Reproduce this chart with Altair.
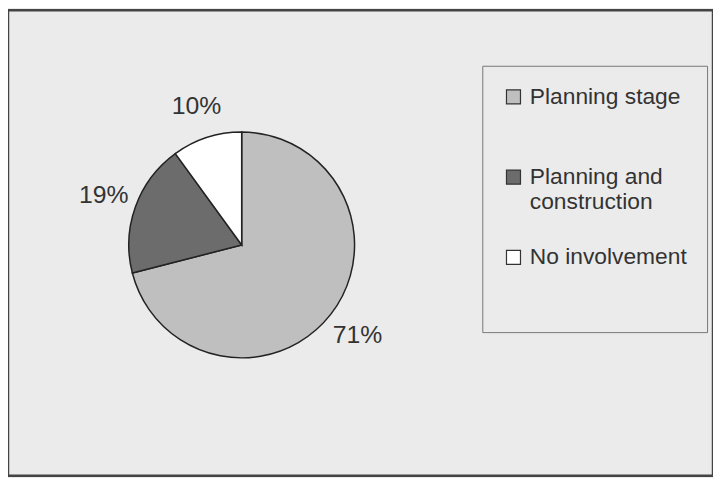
import altair as alt
import pandas as pd

categories = ["Planning stage", "Planning and construction", "No involvement"]
shares = [71, 19, 10]
labels = ["71%", "19%", "10%"]
slice_order = [0, 1, 2]
colors = ["#bfbfbf", "#6c6c6c", "#ffffff"]

df = pd.DataFrame({
    "category": categories,
    "share": shares,
    "label": labels,
    "order": slice_order,
})

CX, CY = 236, 237
FONT = "Liberation Sans"

label_expr = (
    "datum.label == 'Planning and construction' ? ['Planning and', 'construction'] : "
    "datum.label == 'Planning stage' ? ['Planning stage', ''] : datum.label"
)

pie = alt.Chart(df).mark_arc(
    outerRadius=114, stroke="#222222", strokeWidth=1.5
).encode(
    theta=alt.Theta("share:Q", stack=True),
    order=alt.Order("order:Q"),
    color=alt.Color(
        "category:N",
        scale=alt.Scale(domain=categories, range=colors),
        legend=alt.Legend(
            title="\u00a0",
            titleOrient="bottom",
            titleFontSize=20,
            titlePadding=23,
            orient="none",
            legendX=479,
            legendY=56,
            direction="vertical",
            symbolType="square",
            symbolSize=200,
            symbolStrokeColor="#333333",
            symbolStrokeWidth=1.2,
            labelFont=FONT,
            labelFontSize=23,
            labelColor="#333333",
            labelOffset=5,
            labelLimit=0,
            labelExpr=label_expr,
            strokeColor="#777777",
            padding=20,
            rowPadding=32,
        ),
    ),
    x=alt.value(CX),
    y=alt.value(CY),
)

text = alt.Chart(df).mark_text(
    radius=148, font=FONT, fontSize=25, color="#333333"
).encode(
    theta=alt.Theta("share:Q", stack=True),
    order=alt.Order("order:Q"),
    text="label:N",
    x=alt.value(CX),
    y=alt.value(CY),
)

chart = alt.layer(pie, text).properties(
    width=712,
    height=470,
    padding=0,
    autosize=alt.AutoSizeParams(type="none"),
    background="#ebebeb",
).configure_view(
    stroke="#444444",
    strokeWidth=2.5,
    fill="#ebebeb",
)

chart.save("out.html", embed_options={"renderer": "svg", "actions": False})
